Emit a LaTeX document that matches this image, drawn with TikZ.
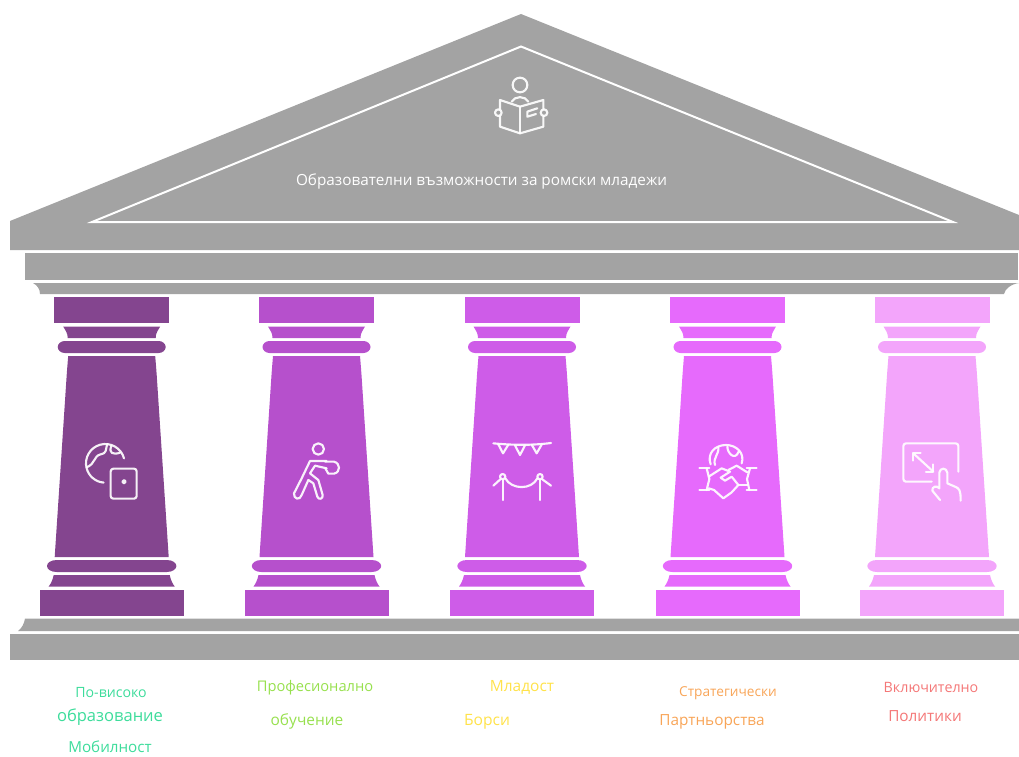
\documentclass[tikz,border=0pt]{standalone}
\usepackage{fontspec}
\setmainfont{Open Sans}
\definecolor{gr}{HTML}{A3A3A3}
\definecolor{pa}{HTML}{84458F}
\definecolor{pb}{HTML}{B650CC}
\definecolor{pc}{HTML}{CE5CE8}
\definecolor{pd}{HTML}{E66AFC}
\definecolor{pe}{HTML}{F3A5FB}
\definecolor{la}{HTML}{3DDC9B}
\definecolor{lb}{HTML}{97E04E}
\definecolor{lc}{HTML}{FFE24A}
\definecolor{ld}{HTML}{F8A558}
\definecolor{le}{HTML}{F47777}
\newcommand{\fs}[1]{\fontsize{#1}{#1}\selectfont}
\tikzset{
  icon/.style={draw=white,line width=1.6pt,line cap=round,line join=round,opacity=.92},
  zoomed/.style={x=0.25pt,y=-0.25pt},
  lab/.style={inner sep=0pt,anchor=center},
}
\newcommand{\pillar}[2]{%
\begin{scope}[shift={(#1,0)},fill=#2]
  \fill (-57.5,297) rectangle (57.5,323);
  \fill (-48.5,326.5) .. controls (-46,331) and (-44,333) .. (-44,338) -- (44,338) .. controls (44,333) and (46,331) .. (48.5,326.5) -- cycle;
  \fill (-47,341) -- (47,341) .. controls (51,341) and (54,344) .. (54,347) .. controls (54,350) and (51,353) .. (47,353) -- (-47,353) .. controls (-51,353) and (-54,350) .. (-54,347) .. controls (-54,344) and (-51,341) .. (-47,341) -- cycle;
  \fill (-43.5,356) -- (43.5,356) .. controls (44,362) and (44.5,368) .. (45,375) -- (57,557) -- (-57,557) -- (-45,375) .. controls (-44.5,368) and (-44,362) .. (-43.5,356) -- cycle;
  \fill (-55,560) -- (55,560) .. controls (61,560) and (64.7,563) .. (64.7,566) .. controls (64.7,569) and (61,572) .. (55,572) -- (-55,572) .. controls (-61,572) and (-64.7,569) .. (-64.7,566) .. controls (-64.7,563) and (-61,560) .. (-55,560) -- cycle;
  \fill (-58,575) -- (58,575) .. controls (59,580) and (61,584) .. (63,586.5) -- (-63,586.5) .. controls (-61,584) and (-59,580) .. (-58,575) -- cycle;
  \fill (-72,590) rectangle (72,616);
\end{scope}}
\begin{document}
\begin{tikzpicture}[x=0.75pt,y=-0.75pt]
\useasboundingbox (0,0) rectangle (1019,756);
% roof
\fill[gr] (521,14) -- (1019,215) -- (1019,250) -- (10,250) -- (10,221) -- cycle;
\draw[white,line width=1.5pt,line join=miter] (521,46.5) -- (953,222) -- (92,222) -- cycle;
\fill[gr] (25,253) rectangle (1018,279.5);
\fill[gr] (33,283) -- (1019,283) .. controls (1011,284) and (1005,289) .. (1004,294) -- (40,294) .. controls (40,289) and (37,285) .. (33,283) -- cycle;
% pillars
\pillar{111.7}{pa}
\pillar{316.5}{pb}
\pillar{522}{pc}
\pillar{727.5}{pd}
\pillar{932}{pe}
% floor
\fill[gr] (25,618.5) -- (1019,618.5) -- (1019,631) -- (18,631) .. controls (22,628) and (24,624) .. (25,618.5) -- cycle;
\fill[gr] (10,634) rectangle (1019,660);
% book icon
\begin{scope}[shift={(480,65)},zoomed]
  \draw[icon] (120,60) circle (22);
  \draw[icon] (95,110) .. controls (105,92) and (135,92) .. (145,110);
  \draw[icon] (120,125) -- (120,205);
  \draw[icon] (60,132) -- (60,105) -- (120,125) -- (190,105) -- (190,132);
  \draw[icon] (60,154) -- (60,185) -- (120,205) -- (190,185) -- (190,154);
  \draw[icon] (55,143) circle (10);
  \draw[icon] (192,143) circle (10);
  \draw[icon] (172,130) -- (142,140) -- (142,155) -- (168,147);
\end{scope}
% globe + tablet
\begin{scope}[shift={(70,430)},zoomed]
  \draw[icon] (162,85) arc[start angle=15,end angle=265,radius=14.5pt];
  \draw[icon] (112,42) .. controls (105,62) and (112,68) .. (92,73) .. controls (70,78) and (78,100) .. (50,112);
  \draw[icon] (124,48) .. controls (115,70) and (130,75) .. (150,68);
  \draw[icon,rounded corners=2pt] (122,116) rectangle (200,206);
  \draw[icon] (162,155) circle (5);
\end{scope}
% runner
\begin{scope}[shift={(280,435)},zoomed]
  \draw[icon] (115,42) circle (17);
  \draw[icon] (140,78) -- (90,78) -- (65,130) -- (42,175) .. controls (40,192) and (60,198) .. (65,180) -- (85,135) -- (100,145) -- (112,185) .. controls (116,196) and (130,192) .. (128,180) -- (115,135) -- (90,115) -- (105,92) -- (140,100);
  \draw[icon] (135,80) -- (162,80) .. controls (182,85) and (182,112) .. (162,116) -- (145,116) -- (136,100);
\end{scope}
% bunting and rope
\begin{scope}[shift={(480,430)},zoomed]
  \draw[icon] (40,40) .. controls (100,46) and (160,46) .. (213,39);
  \draw[icon] (55,43) -- (69,70) -- (85,44);
  \draw[icon] (105,46) -- (120,75) -- (135,46);
  \draw[icon] (155,44) -- (170,70) -- (186,42);
  \draw[icon] (68,150) -- (68,210);
  \draw[icon] (180,150) -- (180,210);
  \draw[icon] (68,140) circle (8);
  \draw[icon] (180,140) circle (8);
  \draw[icon] (40,167) -- (61,148);
  \draw[icon] (187,148) -- (213,167);
  \draw[icon] (76,145) .. controls (95,180) and (155,180) .. (172,145);
\end{scope}
% handshake
\begin{scope}[shift={(690,435)},zoomed]
  \draw[icon] (62,88) .. controls (50,55) and (75,30) .. (108,30) .. controls (140,30) and (165,55) .. (155,85);
  \draw[icon] (75,90) .. controls (68,68) and (88,58) .. (85,36);
  \draw[icon] (112,35) .. controls (112,55) and (135,78) .. (146,50);
  \draw[icon] (28,100) -- (58,100);
  \draw[icon] (28,165) -- (58,165);
  \draw[icon] (50,100) -- (58,132) -- (50,165);
  \draw[icon] (170,100) -- (200,100);
  \draw[icon] (170,165) -- (200,165);
  \draw[icon] (180,100) -- (171,132) -- (178,165);
  \draw[icon] (56,125) -- (95,100) -- (120,110) -- (92,128) -- (105,137) -- (125,125) -- (145,150) -- (125,172) -- (100,190) -- (72,165) -- (56,160);
  \draw[icon] (115,105) -- (140,92) -- (172,112);
  \draw[icon] (145,150) -- (172,150);
\end{scope}
% screen + hand
\begin{scope}[shift={(890,430)},zoomed]
  \draw[icon,rounded corners=2pt] (205,125) -- (205,40) -- (40,40) -- (40,155) -- (125,155);
  \draw[icon] (72,72) -- (130,125);
  \draw[icon] (70,92) -- (70,70) -- (92,70);
  \draw[icon] (108,125) -- (130,125) -- (130,103);
  \draw[icon] (150,210) -- (127,182) .. controls (125,170) and (140,165) .. (148,175) -- (148,128) .. controls (150,112) and (170,112) .. (172,128) -- (172,160) -- (195,170) .. controls (208,175) and (212,180) .. (212,212);
\end{scope}
% texts
\node[lab,text=white,font=\fs{11.47}] (title) at (481.5,181) {Образователни възможности за ромски младежи};
\node[lab,text=la,font=\fs{10.6}] (a1) at (111,693) {По-високо};
\node[lab,text=la,font=\fs{12.4}] (a2) at (110,717) {образование};
\node[lab,text=la,font=\fs{11.4}] (a3) at (110,746.5) {Мобилност};
\node[lab,text=lb,font=\fs{11}] (b1) at (315,687.5) {Професионално};
\node[lab,text=lb,font=\fs{11.6}] (b2) at (307,721.5) {обучение};
\node[lab,text=lc,font=\fs{11.6}] (c1) at (522,687) {Младост};
\node[lab,text=lc,font=\fs{11.7}] (c2) at (487,721.5) {Борси};
\node[lab,text=ld,font=\fs{10.25}] (d1) at (728,693) {Стратегически};
\node[lab,text=ld,font=\fs{11.5}] (d2) at (712,721.5) {Партньорства};
\node[lab,text=le,font=\fs{10.7}] (e1) at (931,687) {Включително};
\node[lab,text=le,font=\fs{11.5}] (e2) at (925,716.5) {Политики};
\end{tikzpicture}
\end{document}
